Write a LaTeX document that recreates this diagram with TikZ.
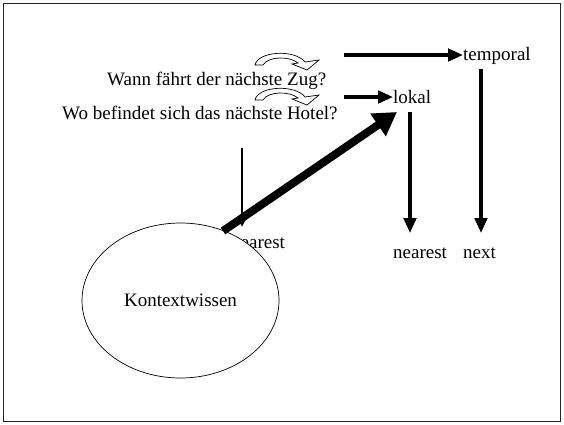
\documentclass[tikz,border=0pt]{standalone}
\usepackage{fontspec}
\setmainfont{Liberation Serif}
\usetikzlibrary{arrows.meta,shapes.geometric}
\begin{document}
\begin{tikzpicture}[x=1pt,y=-1pt,
  lbl/.style={inner sep=0pt, font=\fontsize{19}{22}\selectfont, anchor=base west},
  arr/.style={line width=3.4pt, -{Triangle[length=15pt,width=12.5pt]}},
  thinarr/.style={line width=2.8pt, -{Triangle[length=10pt,width=9pt]}},
  bigarr/.style={line width=8pt, -{Triangle[length=23pt,width=26pt]}},
  curvearrow/.style={draw=black, line width=0.7pt, fill=white},
  curvedarr/.pic={
    \draw[curvearrow] (0,0) .. controls (3,-14) and (40,-16) .. (50,-3)
      -- (64,-5) -- (52,5) -- (37,-1) -- (43,-2)
      .. controls (35,-9) and (13,-9) .. (8,0) -- cycle;
  }
]
\useasboundingbox (0,0) rectangle (564,424);
\draw[line width=1.3pt, black!85] (3.5,3.5) rectangle (560.5,421.5);

% questions
\node[lbl] (q1) at (107,85) {Wann fährt der nächste Zug?};
\node[lbl] (q2) at (62,119) {Wo befindet sich das nächste Hotel?};
\pic (c1) at (255,65) {curvedarr};
\pic (c2) at (255,100) {curvedarr};

% categories
\node[lbl] (temporal) at (463,60) {temporal};
\node[lbl] (lokal) at (393,103) {lokal};
\node[lbl] (near2) at (393,258) {nearest};
\node[lbl] (next) at (463,258) {next};
\node[lbl] (near1) at (231,248) {nearest};

\coordinate (ts) at (344,55);
\coordinate (ls) at (344,97);
\draw[arr] (ts) -- (ts -| temporal.west);
\draw[arr] (ls) -- (ls -| lokal.west);

\coordinate (lv1) at (410,112);
\coordinate (lv2) at (410,233);
\coordinate (tv1) at (481,69);
\coordinate (tv2) at (481,233);
\draw[arr] (lv1) -- (lv2);
\draw[arr] (tv1) -- (tv2);

% thin arrow
\coordinate (sv1) at (242,148);
\coordinate (sv2) at (242,227);
\draw[thinarr] (sv1) -- (sv2);

% ellipse
\node[ellipse, draw, fill=white, line width=0.7pt, minimum width=197pt,
  minimum height=155pt, inner sep=0pt, font=\fontsize{19}{22}\selectfont]
  (kw) at (180.5,300.5) {Kontextwissen};

% thick arrow
\coordinate (bs) at (223,231);
\coordinate (be) at (397,112);
\draw[bigarr] (bs) -- (be);
\end{tikzpicture}
\end{document}
